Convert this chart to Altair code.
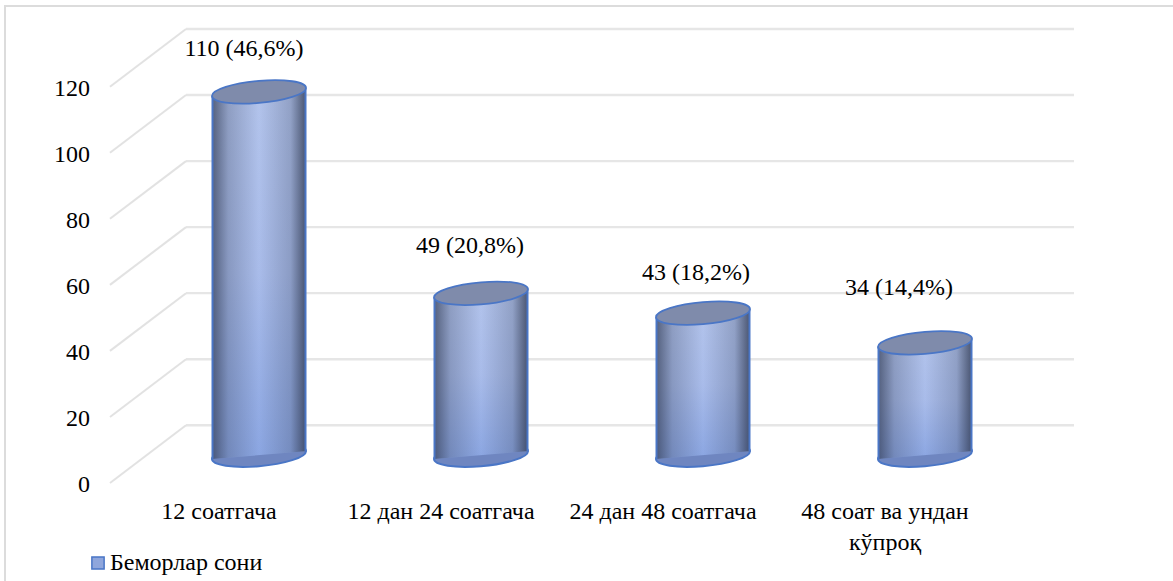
import altair as alt
import numpy as np
import pandas as pd

# Chart values
categories = ["12 соатгача", "12 дан 24 соатгача", "24 дан 48 соатгача", "48 соат ва ундан\nкўпроқ"]
patients = [110, 49, 43, 34]
value_labels = ["110 (46,6%)", "49 (20,8%)", "43 (18,2%)", "34 (14,4%)"]
y_ticks = [0, 20, 40, 60, 80, 100, 120]
series_name = "Беморлар сони"

# Pseudo-3D geometry, in data units of the two axes
PX_PER_X = 222.0
PX_PER_Y = 3.317
DEPTH_X = 76 / PX_PER_X          # back wall shift to the right
DEPTH_Y = 58 / PX_PER_Y          # back wall shift upwards
BAR_SHIFT_X = 38 / PX_PER_X      # cylinders stand half way into the floor
BAR_SHIFT_Y = 28 / PX_PER_Y
BAR_HALF = 46.5 / PX_PER_X
TILT = 4 / PX_PER_Y
X_MAX = 4 + DEPTH_X
Y_MAX = 120 + DEPTH_Y

# Hand placement of the value labels around each cylinder (pixels)
label_nudge_x = [-15, -11, -7, -26]
label_nudge_y = [43, 48, 40, 55]

FONT = "Liberation Serif"
FONT_SIZE = 24
GRID = "#e6e6e6"
EDGE = "#4a76c6"


def cap_path(shear=0.085, minor=0.235):
    """Sheared ellipse as four cubic curves, in the symbol's unit box."""
    k = 0.5523
    m = lambda x, y: f"{x:.4f} {-shear * x + minor * y:.4f}"
    return (
        f"M{m(1, 0)} C{m(1, k)} {m(k, 1)} {m(0, 1)} "
        f"C{m(-k, 1)} {m(-1, k)} {m(-1, 0)} "
        f"C{m(-1, -k)} {m(-k, -1)} {m(0, -1)} "
        f"C{m(k, -1)} {m(1, -k)} {m(1, 0)} Z"
    )


CAP = cap_path()
CAP_SIZE = (2 * 47) ** 2

x_scale = alt.Scale(domain=[0, X_MAX], nice=False, zero=False)
y_scale = alt.Scale(domain=[0, Y_MAX], nice=False, zero=False)
X = lambda f: alt.X(f, type="quantitative", scale=x_scale, axis=None)
Y = lambda f: alt.Y(f, type="quantitative", scale=y_scale, axis=None)

# Walls: back gridlines plus the diagonals across the floor and side wall
back = pd.DataFrame({"v": y_ticks})
back["x0"] = DEPTH_X
back["x1"] = X_MAX
back["y0"] = back["v"] + DEPTH_Y
grid_back = alt.Chart(back).mark_rule(color=GRID, strokeWidth=2.4).encode(
    x=X("x0"), x2="x1", y=Y("y0")
)
diag = pd.concat([
    pd.DataFrame({"v": y_ticks, "x": 0.0, "y": y_ticks}),
    pd.DataFrame({"v": y_ticks, "x": DEPTH_X, "y": [t + DEPTH_Y for t in y_ticks]}),
])
grid_diag = alt.Chart(diag).mark_line(color="#e2e2e2", strokeWidth=2).encode(
    x=X("x"), y=Y("y"), detail="v:N"
)

# Tick labels of the value axis
tick_df = pd.DataFrame({"v": y_ticks, "x": 0.0})
tick_text = alt.Chart(tick_df).mark_text(
    font=FONT, fontSize=FONT_SIZE, color="#000000", align="right", baseline="middle", dx=-20, dy=2
).encode(x=X("x"), y=Y("v"), text="v:Q")

centers = [i + 0.5 + BAR_SHIFT_X for i in range(len(patients))]
tops = [v + BAR_SHIFT_Y for v in patients]

# Cylinder walls: two-point areas give the slanted top and bottom edges
body = pd.DataFrame([
    {"cat": i, "x": c + side * BAR_HALF, "top": t + side * TILT, "base": BAR_SHIFT_Y + side * TILT}
    for i, (c, t) in enumerate(zip(centers, tops)) for side in (-1, 1)
])
shade_v = alt.Gradient(gradient="linear", x1=0, y1=0, x2=0, y2=1, stops=[
    alt.GradientStop(color="#b3c4ec", offset=0),
    alt.GradientStop(color="#a9bcea", offset=0.5),
    alt.GradientStop(color="#8ba6e2", offset=1),
])
shade_h = alt.Gradient(gradient="linear", x1=0, y1=0, x2=1, y2=0, stops=[
    alt.GradientStop(color="rgba(50,60,85,0.72)", offset=0),
    alt.GradientStop(color="rgba(50,60,85,0.28)", offset=0.17),
    alt.GradientStop(color="rgba(50,60,85,0)", offset=0.5),
    alt.GradientStop(color="rgba(50,60,85,0.25)", offset=0.84),
    alt.GradientStop(color="rgba(50,60,85,0.8)", offset=1),
])
body_base = alt.Chart(body).mark_area(fill=shade_v, opacity=1).encode(
    x=X("x"), y=Y("top"), y2="base", detail="cat:N"
)
body_shade = alt.Chart(body).mark_area(fill=shade_h, opacity=1).encode(
    x=X("x"), y=Y("top"), y2="base", detail="cat:N"
)
sides = alt.Chart(body).mark_rule(color=EDGE, strokeWidth=2).encode(
    x=X("x"), y=Y("top"), y2="base"
)

caps = pd.DataFrame({"x": centers, "top": tops, "base": BAR_SHIFT_Y})
bottom_cap = alt.Chart(caps).mark_point(
    shape=CAP, size=CAP_SIZE, filled=True, fill="#6f86c0", stroke=EDGE, strokeWidth=2, opacity=1
).encode(x=X("x"), y=Y("base"))
top_cap = alt.Chart(caps).mark_point(
    shape=CAP, size=CAP_SIZE, filled=True, fill="#7f8bab", stroke=EDGE, strokeWidth=1.8, opacity=1
).encode(x=X("x"), y=Y("top"))

# Value labels above the cylinders
labels = pd.DataFrame({
    "text": value_labels,
    "x": [c + n / PX_PER_X for c, n in zip(centers, label_nudge_x)],
    "y": [t + n / PX_PER_Y for t, n in zip(tops, label_nudge_y)],
})
value_text = alt.Chart(labels).mark_text(
    font=FONT, fontSize=FONT_SIZE, color="#000000", baseline="middle"
).encode(x=X("x"), y=Y("y"), text="text:N")

# Category labels under the floor
cats = pd.DataFrame({"cat": categories, "x": [i + 0.5 for i in range(4)], "y": 0})
cat_text = alt.Chart(cats).mark_text(
    font=FONT, fontSize=FONT_SIZE, color="#000000", baseline="top",
    lineBreak="\n", lineHeight=31, dy=17, dx=-2,
).encode(x=X("x"), y=Y("y"), text="cat:N")

# Series legend
legend_layer = alt.Chart(pd.DataFrame({"s": [series_name]})).mark_square(size=0, opacity=0).encode(
    color=alt.Color("s:N", scale=alt.Scale(range=["#8fa6dc"]), legend=alt.Legend(
        orient="none", legendX=-26, legendY=522, title=None, symbolType="square",
        symbolSize=150, symbolStrokeColor=EDGE, symbolStrokeWidth=1.5, symbolOpacity=1,
        symbolOffset=2,
        labelFont=FONT, labelFontSize=FONT_SIZE, labelColor="#000000", labelOffset=0,
    )),
)

# Light frame that runs past the right and bottom of the figure
frame = alt.Chart(pd.DataFrame({"a": [0]})).mark_rect(
    fill="#ffffff", fillOpacity=0, stroke="#dcdcdc", strokeWidth=2
).encode(
    x=alt.value(-105), x2=alt.value(1100), y=alt.value(-23), y2=alt.value(600)
)

chart = alt.layer(
    frame, grid_back, grid_diag, tick_text, bottom_cap, body_base, body_shade,
    sides, top_cap, value_text, cat_text, legend_layer,
).properties(
    width=964, height=454,
    padding={"left": 110, "top": 29, "right": 99, "bottom": 98},
    autosize=alt.AutoSizeParams(type="none"),
    background="#ffffff",
).configure_view(stroke=None)

chart.save("out.html", embed_options={"renderer": "svg", "actions": False})
